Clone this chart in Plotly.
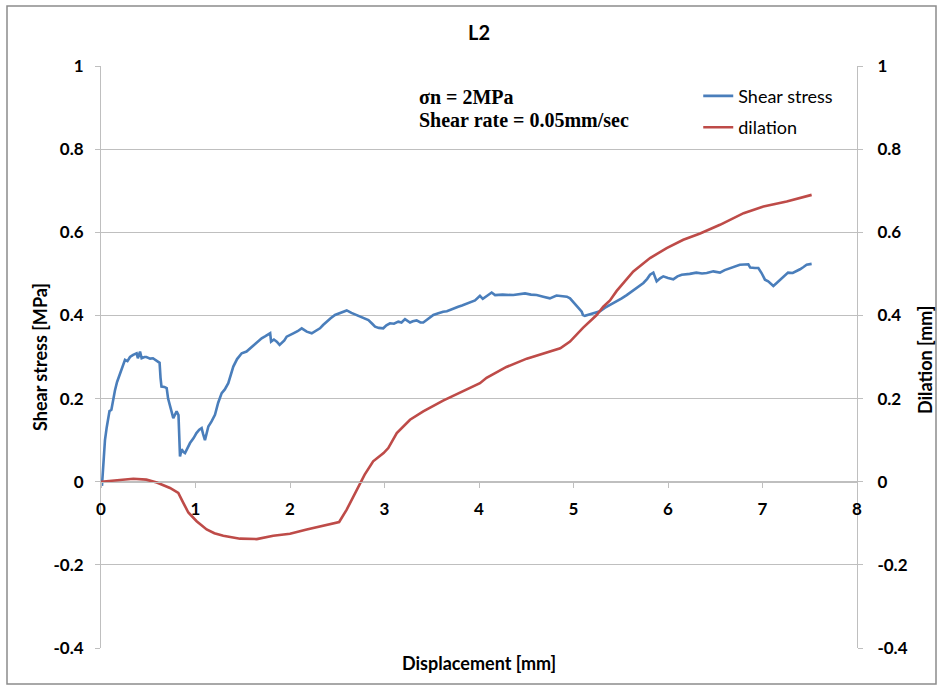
import plotly.graph_objects as go

# ---- data ----
shear_x = [0.01, 0.03, 0.042, 0.06, 0.077, 0.09, 0.11, 0.13, 0.148, 0.17, 0.2, 0.23, 0.254, 0.28, 0.307, 0.34,
           0.377, 0.39, 0.413, 0.43, 0.46, 0.48, 0.52, 0.55, 0.58, 0.607, 0.62, 0.63, 0.64, 0.67, 0.695, 0.71,
           0.73, 0.765, 0.78, 0.80, 0.82, 0.83, 0.836, 0.853, 0.87, 0.889, 0.92, 0.942, 0.98, 1.01, 1.04, 1.065,
           1.08, 1.10, 1.136, 1.17, 1.206, 1.24, 1.277, 1.31, 1.347, 1.375, 1.40, 1.44, 1.489, 1.54, 1.575, 1.61,
           1.65, 1.70, 1.74, 1.79, 1.80, 1.83, 1.86, 1.89, 1.94, 1.965, 2.035, 2.08, 2.124, 2.177, 2.23, 2.27,
           2.317, 2.35, 2.388, 2.43, 2.476, 2.54, 2.60, 2.65, 2.706, 2.77, 2.83, 2.87, 2.90, 2.94, 2.987, 3.02,
           3.058, 3.10, 3.146, 3.18, 3.217, 3.27, 3.30, 3.34, 3.38, 3.41, 3.46, 3.517, 3.57, 3.62, 3.66, 3.71,
           3.78, 3.82, 3.87, 3.92, 3.958, 4.01, 4.04, 4.09, 4.134, 4.17, 4.25, 4.363, 4.43, 4.487, 4.55, 4.61,
           4.68, 4.75, 4.82, 4.857, 4.93, 4.963, 5.03, 5.087, 5.10, 5.12, 5.21, 5.28, 5.33, 5.386, 5.457, 5.51,
           5.563, 5.62, 5.67, 5.74, 5.78, 5.81, 5.845, 5.88, 5.92, 5.95, 6.0, 6.056, 6.1, 6.145, 6.23, 6.30,
           6.36, 6.41, 6.48, 6.55, 6.60, 6.656, 6.71, 6.76, 6.85, 6.87, 6.92, 6.956, 6.99, 7.026, 7.06, 7.09,
           7.115, 7.15, 7.185, 7.23, 7.27, 7.32, 7.36, 7.397, 7.43, 7.467, 7.52]
shear_y = [-0.01, 0.06, 0.10, 0.13, 0.15, 0.17, 0.173, 0.20, 0.22, 0.24, 0.26, 0.28, 0.293, 0.29, 0.30, 0.305,
           0.309, 0.297, 0.313, 0.297, 0.30, 0.30, 0.296, 0.297, 0.292, 0.289, 0.286, 0.25, 0.229, 0.228, 0.225, 0.20,
           0.181, 0.153, 0.16, 0.169, 0.16, 0.11, 0.061, 0.078, 0.072, 0.069, 0.085, 0.093, 0.105, 0.117, 0.125, 0.129,
           0.115, 0.10, 0.133, 0.145, 0.161, 0.19, 0.213, 0.222, 0.237, 0.26, 0.277, 0.295, 0.309, 0.313, 0.32, 0.329,
           0.336, 0.345, 0.35, 0.357, 0.337, 0.342, 0.337, 0.329, 0.34, 0.349, 0.357, 0.362, 0.369, 0.361, 0.357, 0.362,
           0.369, 0.377, 0.385, 0.393, 0.401, 0.407, 0.412, 0.406, 0.401, 0.395, 0.389, 0.38, 0.373, 0.37, 0.369, 0.376,
           0.381, 0.38, 0.385, 0.383, 0.391, 0.383, 0.386, 0.388, 0.383, 0.383, 0.392, 0.401, 0.405, 0.409, 0.41, 0.415,
           0.421, 0.424, 0.428, 0.432, 0.436, 0.447, 0.44, 0.448, 0.455, 0.449, 0.45, 0.449, 0.451, 0.453, 0.45, 0.449,
           0.445, 0.441, 0.448, 0.447, 0.445, 0.441, 0.425, 0.409, 0.401, 0.399, 0.405, 0.41, 0.418, 0.425, 0.433, 0.441,
           0.449, 0.458, 0.466, 0.478, 0.488, 0.498, 0.503, 0.482, 0.49, 0.494, 0.49, 0.487, 0.494, 0.498, 0.50, 0.503,
           0.501, 0.502, 0.506, 0.503, 0.509, 0.514, 0.518, 0.522, 0.523, 0.515, 0.514, 0.514, 0.502, 0.486, 0.482, 0.476,
           0.471, 0.478, 0.486, 0.495, 0.503, 0.502, 0.506, 0.511, 0.516, 0.522, 0.524]

dil_x = [0.0, 0.166, 0.342, 0.48, 0.59, 0.73, 0.818, 0.871, 0.924, 1.012, 1.118, 1.2, 1.294, 1.471, 1.648,
         1.823, 2.0, 2.177, 2.352, 2.52, 2.6, 2.706, 2.79, 2.88, 2.99, 3.04, 3.13, 3.27, 3.41, 3.62, 3.83,
         4.01, 4.08, 4.29, 4.505, 4.68, 4.86, 4.963, 5.10, 5.245, 5.315, 5.386, 5.457, 5.633, 5.81, 5.986,
         6.162, 6.34, 6.55, 6.80, 7.01, 7.256, 7.52]
dil_y = [0.0, 0.003, 0.007, 0.005, -0.002, -0.015, -0.027, -0.051, -0.074, -0.095, -0.115, -0.124, -0.13, -0.137, -0.138,
         -0.13, -0.125, -0.115, -0.106, -0.097, -0.067, -0.019, 0.017, 0.049, 0.069, 0.081, 0.117, 0.149, 0.169, 0.195, 0.218,
         0.237, 0.25, 0.276, 0.296, 0.309, 0.321, 0.337, 0.37, 0.401, 0.421, 0.436, 0.459, 0.506, 0.538, 0.562,
         0.582, 0.597, 0.618, 0.646, 0.662, 0.674, 0.69]

x_ticks = [0, 1, 2, 3, 4, 5, 6, 7, 8]
y_ticks = [-0.4, -0.2, 0, 0.2, 0.4, 0.6, 0.8, 1]
y_tick_text = ["-0.4", "-0.2", "0", "0.2", "0.4", "0.6", "0.8", "1"]

BLUE = "#4A7EBB"
RED = "#BE4B48"
GRID = "#BFBFBF"
FONT = "Lato"

fig = go.Figure()
fig.add_trace(go.Scatter(x=shear_x, y=shear_y, mode="lines", name="Shear stress",
                         line=dict(color=BLUE, width=2.6), legendgroup="a"))
fig.add_trace(go.Scatter(x=dil_x, y=dil_y, mode="lines", name="dilation", yaxis="y2",
                         line=dict(color=RED, width=2.6), legendgroup="b"))

zero_pos = (0 - (-0.4)) / 1.4
tickfont = dict(family=FONT, size=17, color="black", weight="bold")


def px_x(p):
    return (p - 101) / 756


def px_y(p):
    return (648 - p) / 582


fig.update_layout(
    width=941, height=688,
    margin=dict(l=101, r=84, t=66, b=40),
    paper_bgcolor="white", plot_bgcolor="white",
    font=dict(family=FONT, color="black"),
    showlegend=True,
    legend=dict(x=0.79, y=0.98, xanchor="left", yanchor="top", bgcolor="rgba(0,0,0,0)",
                font=dict(family=FONT, size=18, color="black"), itemwidth=30,
                tracegroupgap=5),
    xaxis=dict(range=[0, 8], tickvals=x_ticks, ticktext=[str(v) for v in x_ticks],
               anchor="free", position=zero_pos, showgrid=False, zeroline=False,
               showline=True, linecolor=GRID, linewidth=1, ticks="outside", ticklen=5,
               tickcolor=GRID, tickfont=tickfont, ticklabelstandoff=7),
    yaxis=dict(range=[-0.4, 1], tickvals=y_ticks, ticktext=y_tick_text, showgrid=True,
               gridcolor=GRID, gridwidth=1, zeroline=False, showline=True, linecolor=GRID,
               ticks="outside", ticklen=5, tickcolor=GRID, tickfont=tickfont, ticklabelstandoff=8),
    yaxis2=dict(range=[-0.4, 1], tickvals=y_ticks, ticktext=y_tick_text, overlaying="y",
                side="right", showgrid=False, zeroline=False, showline=True, linecolor=GRID,
                ticks="outside", ticklen=5, tickcolor=GRID, tickfont=tickfont, ticklabelstandoff=11),
)

annotations = [
    dict(text="<b>L2</b>", x=0.5, y=px_y(32), xref="paper", yref="paper", showarrow=False,
         xanchor="center", yanchor="middle", font=dict(family=FONT, size=20)),
    dict(text="<b>Displacement [mm]</b>", x=0.5, y=px_y(663), xref="paper", yref="paper",
         showarrow=False, xanchor="center", yanchor="middle", font=dict(family=FONT, size=18)),
    dict(text="<b>Shear stress [MPa]</b>", x=px_x(40), y=px_y(357), xref="paper", yref="paper",
         showarrow=False, xanchor="center", yanchor="middle", textangle=-90,
         font=dict(family=FONT, size=18)),
    dict(text="<b>Dilation [mm]</b>", x=px_x(925), y=px_y(360), xref="paper", yref="paper",
         showarrow=False, xanchor="center", yanchor="middle", textangle=-90,
         font=dict(family=FONT, size=18)),
    dict(text="<b>σn = 2MPa</b>", x=px_x(417), y=px_y(97), xref="paper", yref="paper",
         xanchor="left", yanchor="middle", showarrow=False,
         font=dict(family="Liberation Serif", size=20)),
    dict(text="<b>Shear rate = 0.05mm/sec</b>", x=px_x(417), y=px_y(120), xref="paper", yref="paper",
         xanchor="left", yanchor="middle", showarrow=False,
         font=dict(family="Liberation Serif", size=20)),
]
fig.update_layout(annotations=annotations)

fig.add_shape(type="rect", xref="paper", yref="paper",
              x0=px_x(7), x1=px_x(936), y0=px_y(684), y1=px_y(6),
              line=dict(color="#8C8C8C", width=1.5), fillcolor="rgba(0,0,0,0)", layer="below")

fig.write_html("out.html")
